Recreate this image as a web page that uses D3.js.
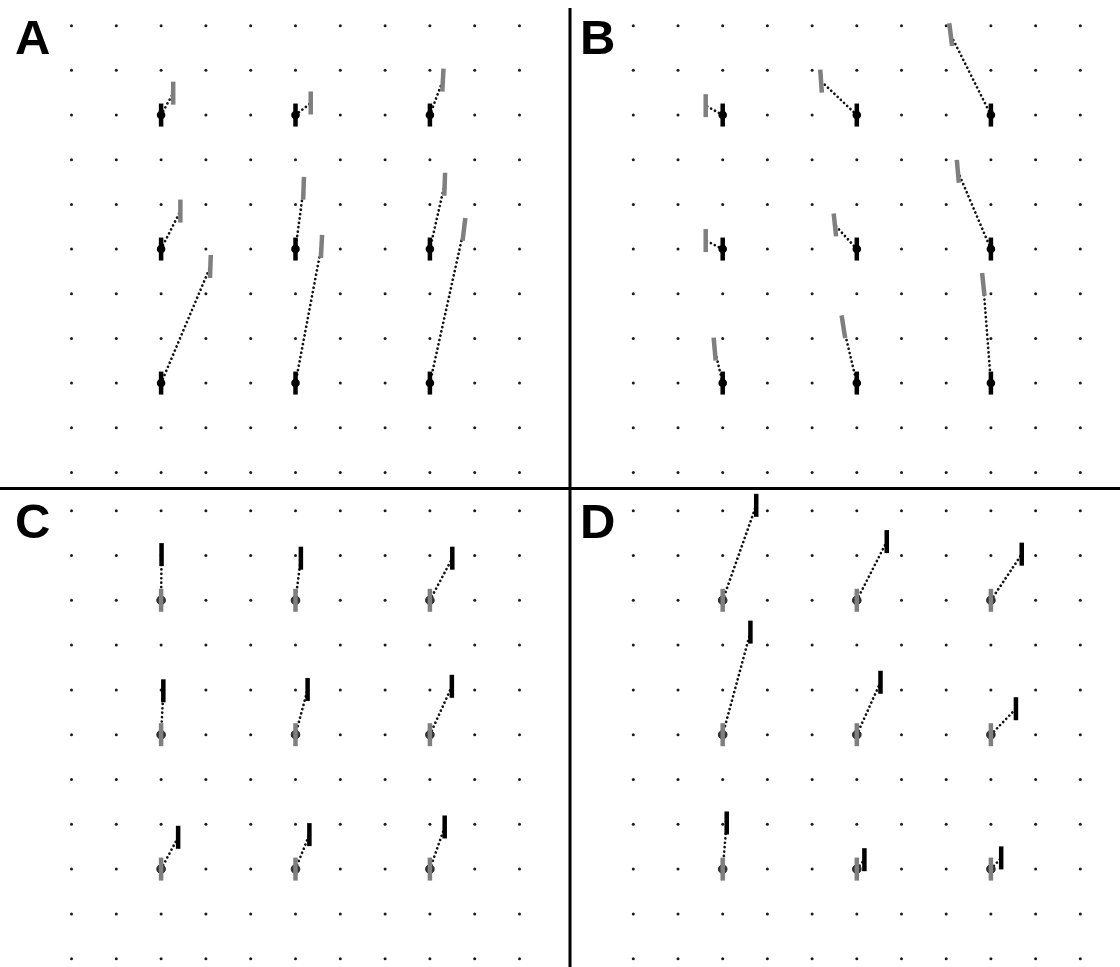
<!DOCTYPE html>
<html>
<head>
<meta charset="utf-8">
<script src="https://cdn.jsdelivr.net/npm/d3@7"></script>
<style>
html,body{margin:0;padding:0;background:#fff;}
svg{display:block;}
</style>
</head>
<body>
<svg id="chart" width="1120" height="967"></svg>
<script>
// ---------- data (grid units) ----------
const panelLabels = ["A", "B", "C", "D"];
const gridCols = d3.range(0, 11);
const gridRows = d3.range(0, 11);
const baseCols = [2, 5, 8];
const baseRows = [2, 5, 8];
// displacement of the moved marker from its base point: [dx, dy(up)], row-major
const shiftA = [[0.27,0.49],[0.34,0.27],[0.29,0.78],[0.43,0.85],[0.18,1.36],[0.33,1.45],[1.10,2.61],[0.58,3.06],[0.76,3.44]];
const shiftB = [[-0.38,0.21],[-0.80,0.76],[-0.90,1.80],[-0.38,0.19],[-0.49,0.54],[-0.74,1.74],[-0.18,0.76],[-0.30,1.26],[-0.17,2.21]];
const shiftC = [[0.01,1.02],[0.12,0.94],[0.50,0.94],[0.05,0.98],[0.27,1.01],[0.49,1.08],[0.38,0.71],[0.31,0.77],[0.33,0.94]];
const shiftD = [[0.75,2.12],[0.67,1.31],[0.69,1.03],[0.62,2.29],[0.53,1.17],[0.56,0.58],[0.09,1.03],[0.17,0.21],[0.23,0.25]];
// tilt of the moved bar (degrees, + = top leans right)
const tiltA = [0,0,3,0,2,2,2,3,7];
const tiltB = [0,-4,-7,0,-6,-5,-5,-9,-6];
const tiltC = [0,0,0,0,0,0,0,0,0];
const tiltD = [0,0,0,0,0,0,0,0,0];

// ---------- layout ----------
const svg = d3.select("#chart");
const xLeft = d3.scaleLinear().domain([0,10]).range([71.5, 519.5]);
const xRight = d3.scaleLinear().domain([0,10]).range([633.3, 1080.3]);
const yTop = d3.scaleLinear().domain([0,10]).range([25.7, 472.4]);
const yBottom = d3.scaleLinear().domain([0,10]).range([510.7, 958.7]);

const panels = [
  {label: panelLabels[0], x: xLeft,  y: yTop,    shift: shiftA, tilt: tiltA, type: "move", lx: 15, ly: 54},
  {label: panelLabels[1], x: xRight, y: yTop,    shift: shiftB, tilt: tiltB, type: "move", lx: 580, ly: 54},
  {label: panelLabels[2], x: xLeft,  y: yBottom, shift: shiftC, tilt: tiltC, type: "base", lx: 15, ly: 538},
  {label: panelLabels[3], x: xRight, y: yBottom, shift: shiftD, tilt: tiltD, type: "base", lx: 580, ly: 538}
];

const BAR_H = 23, BAR_W = 4.5, CIRC_R = 4.3;
const GRAY = "#7f7f7f", BLACK = "#000";

panels.forEach(p => {
  const g = svg.append("g");
  // grid dots
  const pts = [];
  gridRows.forEach(r => gridCols.forEach(c => pts.push([c, r])));
  g.selectAll("circle.grid").data(pts).enter().append("circle")
    .attr("class","grid")
    .attr("cx", d => p.x(d[0])).attr("cy", d => p.y(d[1]))
    .attr("r", 1.5).attr("fill", "#1a1a1a");

  const markers = [];
  baseRows.forEach((r, ri) => baseCols.forEach((c, ci) => {
    const i = ri * 3 + ci;
    markers.push({c, r, dx: p.shift[i][0], dy: p.shift[i][1], tilt: p.tilt[i]});
  }));

  markers.forEach(m => {
    const bx = p.x(m.c), by = p.y(m.r);
    const mx = p.x(m.c + m.dx), my = p.y(m.r - m.dy);
    const movedColor = p.type === "move" ? GRAY : BLACK;
    const baseColor = p.type === "move" ? BLACK : GRAY;

    // dotted connection
    g.append("line")
      .attr("x1", bx).attr("y1", by).attr("x2", mx).attr("y2", my)
      .attr("stroke", "#111").attr("stroke-width", 2.7)
      .attr("stroke-linecap", "round")
      .attr("stroke-dasharray", "0.01,4.4");

    // moved bar
    g.append("rect")
      .attr("x", mx - BAR_W/2).attr("y", my - BAR_H/2)
      .attr("width", BAR_W).attr("height", BAR_H)
      .attr("fill", movedColor)
      .attr("transform", `rotate(${m.tilt},${mx},${my})`);

    // base marker
    if (p.type === "move") {
      g.append("rect")
        .attr("x", bx - BAR_W/2).attr("y", by - BAR_H/2)
        .attr("width", BAR_W).attr("height", BAR_H).attr("fill", baseColor);
      g.append("circle").attr("cx", bx).attr("cy", by).attr("r", CIRC_R).attr("fill", BLACK);
    } else {
      g.append("circle").attr("cx", bx).attr("cy", by).attr("r", CIRC_R)
        .attr("fill", "#333").attr("stroke", "#222").attr("stroke-width", 1);
      g.append("rect")
        .attr("x", bx - BAR_W/2).attr("y", by - BAR_H/2)
        .attr("width", BAR_W).attr("height", BAR_H).attr("fill", baseColor);
    }
  });

  // panel label
  svg.append("text")
    .attr("x", p.lx).attr("y", p.ly)
    .attr("font-family", "'Liberation Sans', Arial, sans-serif")
    .attr("font-weight", "bold").attr("font-size", 49)
    .attr("fill", "#000")
    .text(p.label);
});

// dividers
svg.append("line").attr("x1", 570).attr("x2", 570).attr("y1", 8).attr("y2", 967)
  .attr("stroke", "#000").attr("stroke-width", 3);
svg.append("line").attr("x1", 0).attr("x2", 1120).attr("y1", 488.5).attr("y2", 488.5)
  .attr("stroke", "#000").attr("stroke-width", 3);
</script>
</body>
</html>
